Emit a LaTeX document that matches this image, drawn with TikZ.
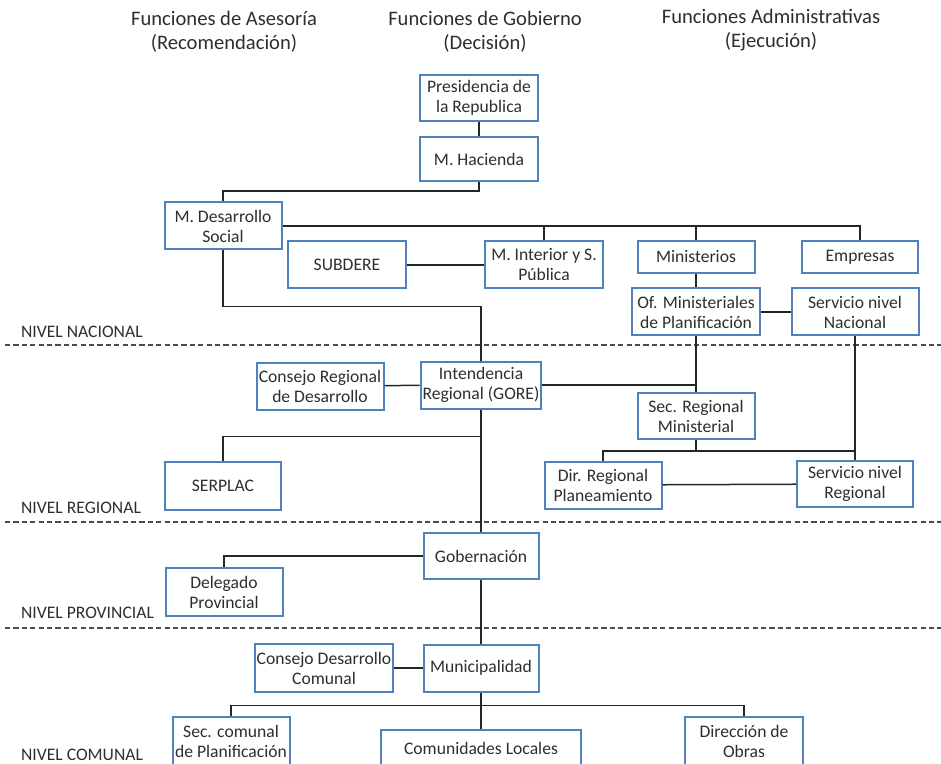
\documentclass[tikz,border=0pt]{standalone}
\usepackage{fontspec}
\setmainfont{Carlito}
\usetikzlibrary{positioning}
\definecolor{azulcaja}{HTML}{4F81BD}
\definecolor{textogris}{HTML}{2E2E2E}

\begin{document}
\begin{tikzpicture}[
        x=0.5pt, y=-0.5pt,
        % Cajas del organigrama (ancho y alto en px)
        caja/.style 2 args={draw=azulcaja, fill=white, line width=1pt, rectangle, align=center,
            minimum width=#1*0.5pt, minimum height=#2*0.5pt, inner sep=1pt,
            text=textogris, font=\fontsize{8.8}{10}\selectfont},
        % Titulos de columnas
        titulo/.style={align=center, text=textogris, font=\fontsize{10.3}{12}\selectfont},
        % Etiquetas de nivel
        etiqueta/.style={anchor=west, text=textogris, font=\fontsize{8.8}{10}\selectfont},
        % Lineas
        enlace/.style={line width=0.75pt, black!85},
        nivel/.style={line width=0.8pt, black!70, dash pattern=on 2.6pt off 1.6pt}
    ]
        \useasboundingbox (0,0) rectangle (941,764);

        % Titulos
        \node[titulo] (asesoria) at (224,32) {Funciones de Asesoría\\(Recomendación)};
        \node[titulo] (gobierno) at (485,32) {Funciones de Gobierno\\(Decisión)};
        \node[titulo] (admin) at (771,30) {Funciones Administrativas\\(Ejecución)};

        % Separadores de nivel
        \draw[nivel] (5,345) -- (941,345);
        \draw[nivel] (5,522) -- (941,522);
        \draw[nivel] (5,628) -- (941,628);
        \node[etiqueta] (nnac) at (14,332) {NIVEL NACIONAL};
        \node[etiqueta] (nreg) at (14,508) {NIVEL REGIONAL};
        \node[etiqueta] (nprov) at (14,613) {NIVEL PROVINCIAL};
        \node[etiqueta] (ncom) at (14,755) {NIVEL COMUNAL};

        % Nivel nacional
        \node[caja={118}{46}] (presidencia) at (479,98) {Presidencia de\\la Republica};
        \node[caja={118}{44}] (hacienda) at (479,159) {M. Hacienda};
        \node[caja={117}{47}] (desarrollo) at (223,226) {M. Desarrollo\\Social};
        \node[caja={118}{47}] (subdere) at (347,265) {SUBDERE};
        \node[caja={118}{47}] (interior) at (544,265) {M. Interior y S.\\Pública};
        \node[caja={117}{32}] (ministerios) at (696,257) {Ministerios};
        \node[caja={116}{32}] (empresas) at (860,257) {Empresas};
        \node[caja={128}{47}] (ofmin) at (696,312) {Of. Ministeriales\\de Planificación};
        \node[caja={127}{47}] (servnac) at (855,312) {Servicio nivel\\Nacional};

        % Nivel regional
        \node[caja={127}{47}] (consejoreg) at (320,386) {Consejo Regional\\de Desarrollo};
        \node[caja={120}{47}] (intendencia) at (481,385) {Intendencia\\Regional (GORE)};
        \node[caja={117}{46}] (secreg) at (696,416) {Sec. Regional\\Ministerial};
        \node[caja={116}{48}] (serplac) at (223,486) {SERPLAC};
        \node[caja={117}{47}] (dirreg) at (603,485) {Dir. Regional\\Planeamiento};
        \node[caja={116}{46}] (servreg) at (855,484) {Servicio nivel\\Regional};

        % Nivel provincial
        \node[caja={115}{46}] (gobernacion) at (481,556) {Gobernación};
        \node[caja={117}{48}] (delegado) at (224,592) {Delegado\\Provincial};

        % Nivel comunal
        \node[caja={115}{47}] (municipalidad) at (481,668) {Municipalidad};
        \node[caja={138}{48}] (consejocom) at (324,668) {Consejo Desarrollo\\Comunal};
        \node[caja={117}{48}] (seccom) at (231,741) {Sec. comunal\\de Planificación};
        \node[caja={200}{36}] (comunidades) at (481,748) {Comunidades Locales};
        \node[caja={118}{48}] (dirobras) at (744,741) {Dirección de\\Obras};

        % Conexiones nacionales
        \draw[enlace] (presidencia) -- (hacienda);
        \draw[enlace] (hacienda.south) -- ++(0,9) -| (desarrollo.north);
        \draw[enlace] (desarrollo.east) -- (empresas.north |- desarrollo.east) -- (empresas.north);
        \draw[enlace] (interior.north) -- (interior.north |- desarrollo.east);
        \draw[enlace] (ministerios.north) -- (ministerios.north |- desarrollo.east);
        \draw[enlace] (subdere) -- (interior);
        \draw[enlace] (ministerios) -- (ofmin);
        \draw[enlace] (ofmin) -- (servnac);
        \draw[enlace] (desarrollo.south) -- ++(0,56) -| (intendencia.north);

        % Conexiones regionales
        \draw[enlace] (ofmin.south) -- (secreg.north);
        \draw[enlace] (servnac.south) -- (servreg.north);
        \draw[enlace] (consejoreg) -- (intendencia);
        \draw[enlace] (intendencia.east) -- (intendencia.east -| secreg.north);
        \draw[enlace] (secreg.south) -- ++(0,11) coordinate (sr);
        \draw[enlace] (dirreg.north) |- (servreg.north |- sr);
        \draw[enlace] (dirreg) -- (servreg);
        \draw[enlace] (intendencia.south) ++(0,27) coordinate (ir) -| (serplac.north);
        \draw[enlace] (intendencia.south) -- (gobernacion.north);

        % Conexiones provinciales y comunales
        \draw[enlace] (gobernacion.west) -| (delegado.north);
        \draw[enlace] (gobernacion) -- (municipalidad);
        \draw[enlace] (consejocom) -- (municipalidad);
        \draw[enlace] (municipalidad.south) -- (comunidades.north);
        \path (municipalidad.south) ++(0,13) coordinate (mc);
        \draw[enlace] (seccom.north) |- (mc) -| (dirobras.north);

    \end{tikzpicture}
\end{document}
